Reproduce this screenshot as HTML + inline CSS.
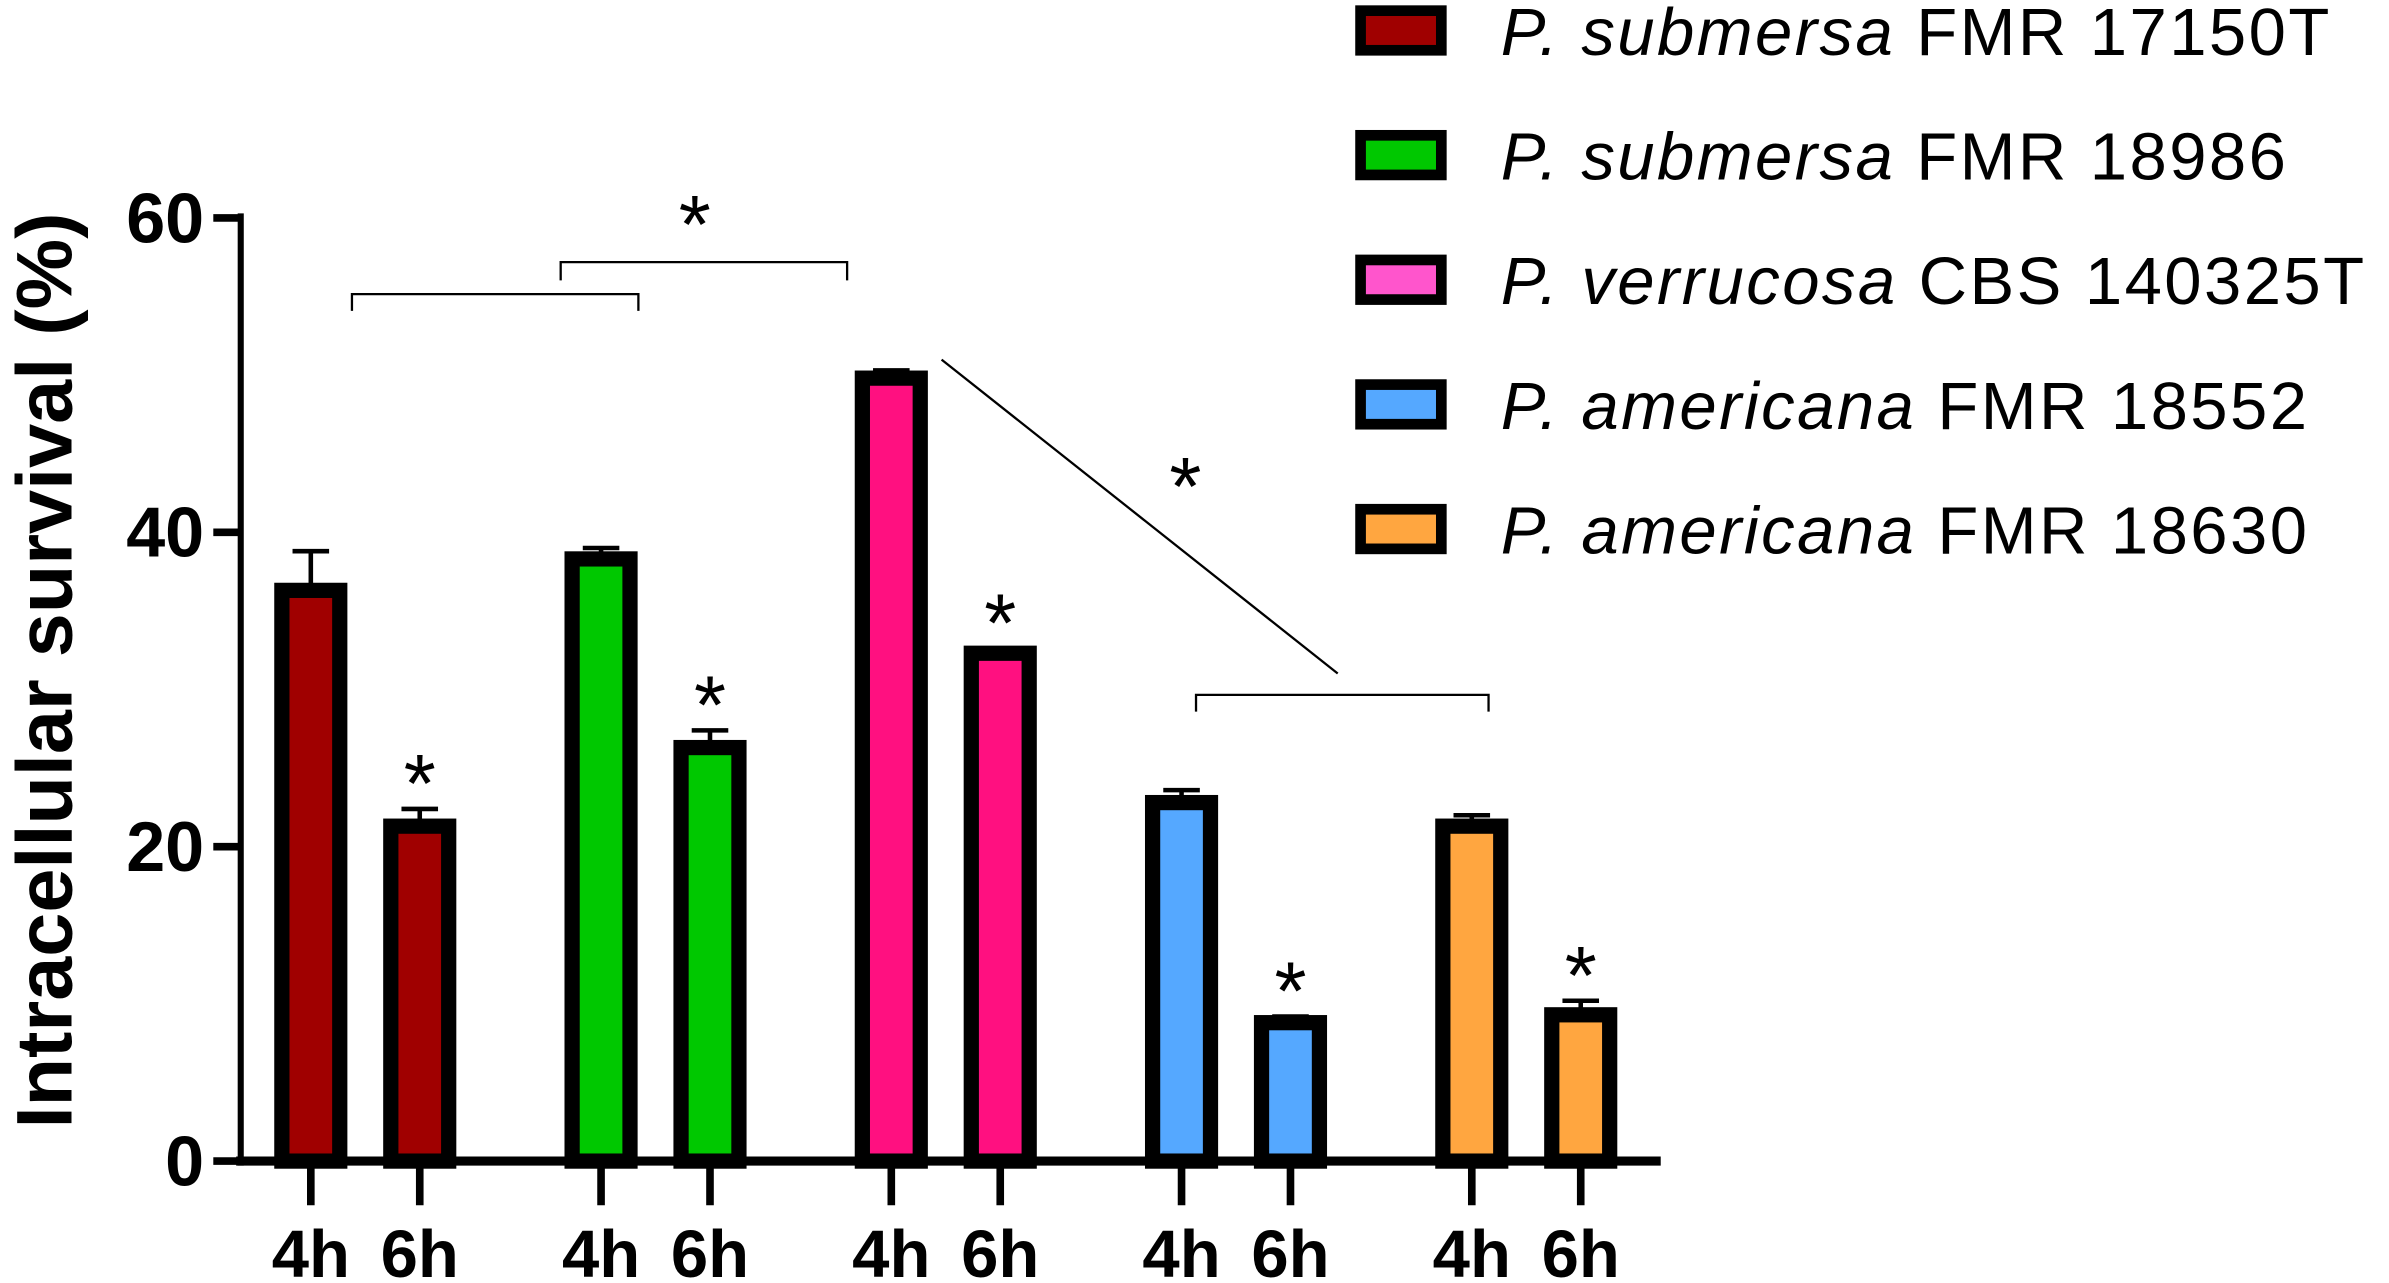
<!DOCTYPE html>
<html><head><meta charset="utf-8"><style>html,body{margin:0;padding:0;background:#fff}svg{display:block}</style></head>
<body>
<svg id="chart" width="2389" height="1283" viewBox="0 0 1568 842" preserveAspectRatio="none" xmlns="http://www.w3.org/2000/svg" font-family="Liberation Sans, Arial, sans-serif">
<g id="plot"></g>
<text transform="translate(47,440) rotate(-90)" text-anchor="middle" font-weight="bold" font-size="52">Intracellular survival (%)</text>
<g fill="none" stroke="#000" stroke-width="1.5">
<path d="M231,204 V193 H419 V204"/>
<path d="M368,184 V172 H556 V184"/>
<path d="M785,467 V456 H977 V467"/>
<line x1="618" y1="236" x2="878" y2="442"/>
</g>
<g font-size="54" text-anchor="middle" font-family="Liberation Sans, sans-serif">
<text x="456" y="166">*</text>
<text x="778" y="338">*</text>
</g>
<g id="legend"></g>
</svg>
<script>
const categories = ["P. submersa FMR 17150T","P. submersa FMR 18986","P. verrucosa CBS 140325T","P. americana FMR 18552","P. americana FMR 18630"];
const times = ["4h","6h"];
const values4h = [36.5, 38.5, 50, 23, 21.5];
const values6h = [21.5, 26.5, 32.5, 9, 9.5];
const err4h = [2.3, 0.5, 0.3, 0.6, 0.5];
const err6h = [0.9, 0.9, 0.1, 0.2, 0.7];
const sig6h = [true, true, true, true, true];
const yTicks = [0, 20, 40, 60];
const colors = ["#a00000","#00c800","#ff1080","#55a8ff","#ffa640"];
const legendColors = ["#a00000","#00c800","#ff55cc","#55a8ff","#ffa640"];
const NS="http://www.w3.org/2000/svg";
const plot=document.getElementById('plot');
const y0=762, yTop=143, yMax=60;
function yScale(v){return y0-(v/yMax)*(y0-yTop);}
function xScale(g,t){return 204+g*190.5+t*71.5;}
function mk(tag,attrs,parent){const e=document.createElementNS(NS,tag);for(const k in attrs)e.setAttribute(k,attrs[k]);(parent||plot).appendChild(e);return e;}
categories.forEach((c,g)=>{
  [values4h[g],values6h[g]].forEach((v,t)=>{
    const cx=xScale(g,t), e=t?err6h[g]:err4h[g];
    const el=mk('line',{x1:cx,x2:cx,y1:yScale(v),y2:yScale(v+e),stroke:'#000','stroke-width':3});
    
    
    const cap=mk('line',{x1:cx-12,x2:cx+12,y1:yScale(v+e),y2:yScale(v+e),stroke:'#000','stroke-width':3});
    
    
    const r=mk('rect',{x:cx-19,y:yScale(v)+2,width:38,height:y0-yScale(v)-2,fill:colors[g],stroke:'#000','stroke-width':10});
    
    
    const tk=mk('line',{x1:cx,x2:cx,y1:y0,y2:791,stroke:'#000','stroke-width':5});
    
    
    const lb=mk('text',{x:cx,y:838,'text-anchor':'middle','font-weight':'bold','font-size':44});
    lb.textContent=times[t];
    
    
    if(t===1&&sig6h[g]){
      const s=mk('text',{x:cx,y:yScale(v+e)+2,'text-anchor':'middle','font-size':54});
      s.textContent='*';
      
      
    }
  });
});
const xa=mk('line',{x1:155,x2:1090,y1:y0,y2:y0,stroke:'#000','stroke-width':6});


const ya=mk('line',{x1:158,x2:158,y1:140,y2:765,stroke:'#000','stroke-width':4});


yTicks.forEach(v=>{
  const t=mk('line',{x1:140,x2:158,y1:yScale(v),y2:yScale(v),stroke:'#000','stroke-width':5});
  
  
  const l=mk('text',{x:134,y:yScale(v)+16,'text-anchor':'end','font-weight':'bold','font-size':46});
  l.textContent=v;
  
  
});
const leg=document.getElementById('legend');
categories.forEach((c,i)=>{
  const cy=20+i*81.8;
  const r=mk('rect',{x:893,y:cy-13,width:53,height:26,fill:legendColors[i],stroke:'#000','stroke-width':7},leg);
  
  
  const parts=c.split(' ');
  const t=mk('text',{x:985,y:cy+16,'font-size':44,'letter-spacing':1.6},leg);
  
  
  const it=mk('tspan',{'font-style':'italic'},t);
  it.textContent=parts[0]+' '+parts[1];
  const rest=mk('tspan',{},t);
  rest.textContent=' '+parts.slice(2).join(' ');
});
</script>
</body></html>
